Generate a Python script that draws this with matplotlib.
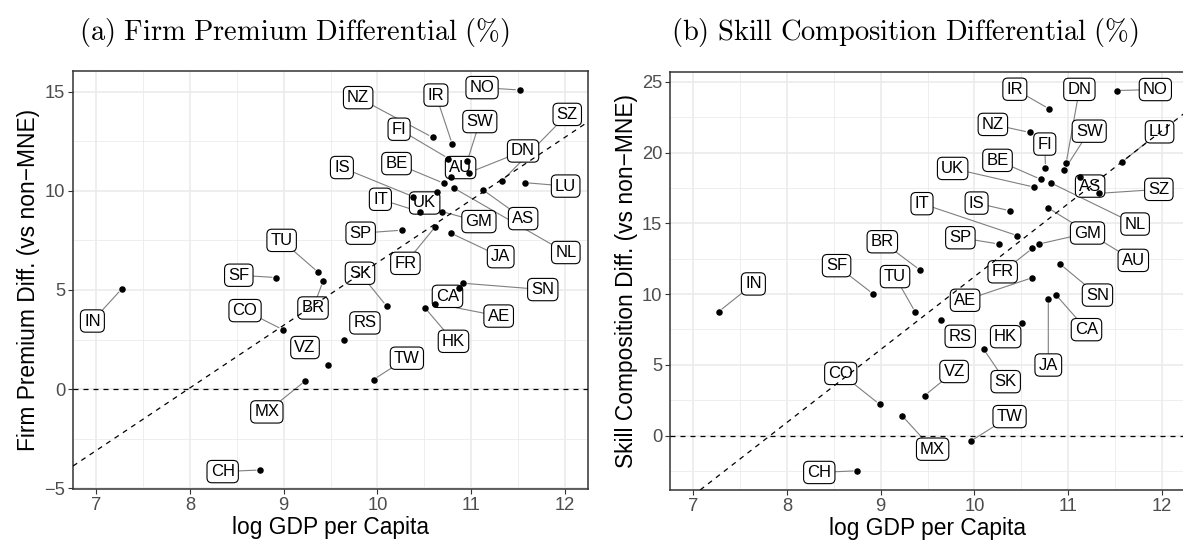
import matplotlib.pyplot as plt
import numpy as np

plt.rcParams["font.family"] = ["Liberation Sans", "DejaVu Sans"]
plt.rcParams["mathtext.fontset"] = "cm"

countries = ["IN", "CH", "SF", "CO", "MX", "TU", "BR", "VZ", "RS", "TW", "SK",
             "SP", "IS", "IT", "HK", "NZ", "FR", "AE", "UK", "GM", "BE", "FI",
             "AU", "JA", "IR", "NL", "CA", "SN", "SW", "DN", "AS", "SZ", "NO", "LU"]
log_gdp = [7.27, 8.75, 8.92, 8.99, 9.23, 9.37, 9.42, 9.47, 9.64, 9.96, 10.10,
           10.26, 10.38, 10.46, 10.51, 10.59, 10.62, 10.62, 10.64, 10.69, 10.71, 10.76,
           10.79, 10.79, 10.80, 10.82, 10.87, 10.92, 10.96, 10.98, 11.13, 11.33, 11.52, 11.58]
firm_premium = [5.05, -4.09, 5.63, 3.00, 0.41, 5.89, 5.44, 1.20, 2.48, 0.48, 4.18,
                8.02, 9.72, 8.94, 4.09, 12.71, 8.20, 4.31, 9.95, 8.96, 10.39, 11.64,
                10.73, 7.86, 12.37, 10.14, 5.12, 5.34, 11.50, 10.93, 10.05, 10.50, 15.10, 10.42]
skill_comp = [8.76, -2.49, 10.01, 2.20, 1.39, 8.72, 11.70, 2.83, 8.17, -0.40, 6.10,
              13.54, 15.89, 14.13, 7.98, 21.43, 13.23, 11.16, 17.56, 13.54, 18.11, 18.93,
              16.08, 9.63, 23.09, 17.85, 9.96, 12.10, 18.76, 19.24, 18.25, 17.12, 24.39, 19.35]

# dashed fit lines: (intercept, slope)
fit_a = (-25.22, 3.16)
fit_b = (-40.27, 5.15)

x_ticks = [7, 8, 9, 10, 11, 12]
y_ticks_a = [-5, 0, 5, 10, 15]
y_ticks_b = [0, 5, 10, 15, 20, 25]

# where the repelled labels sit, in pixels from the point (right, down)
offs_a = {
    "NO": (-37.6, -2.4), "NZ": (-74.4, -39.7), "IR": (-16.3, -49), "FI": (-49.4, -29.3),
    "SW": (12.6, -39.7), "SZ": (65.4, -66.7), "DN": (54, -21.6), "AU": (9.3, -9),
    "BE": (-47.3, -19.7), "IS": (-71, -29), "UK": (-12.6, 11), "IT": (-40, -12.7),
    "LU": (40.4, 3.4), "GM": (37, 10), "AS": (40, 28.6), "NL": (111.7, 64.3),
    "SP": (-41, 3), "JA": (49.4, 23.3), "FR": (-30, 36.7), "SK": (-26.7, -33),
    "TU": (-36.7, -32), "SF": (-37.4, -2.3), "IN": (-29.3, 32), "CO": (-37.7, -19),
    "BR": (-10, 26.7), "VZ": (-22.7, -17.7), "MX": (-38.4, 31), "CH": (-37.6, 1.6),
    "RS": (21.3, -17), "TW": (33.3, -21.3), "CA": (-11.3, 8.7), "SN": (79.3, 6.3),
    "AE": (63.3, 12.4), "HK": (28.4, 33.3),
}
offs_b = {
    "IR": (-34.4, -19.7), "DN": (13.3, -74), "NO": (38.7, -1), "NZ": (-36.7, -8),
    "FI": (-0.7, -23.7), "SW": (25, -39), "LU": (37.3, -30), "UK": (-81.6, -18.7),
    "BE": (-43.3, -19), "AS": (10, 8.7), "SZ": (60, -4), "IT": (-95.4, -32),
    "IS": (-33.3, -7.7), "NL": (84, 41), "GM": (48.6, -11), "SP": (-38.3, -6.3),
    "AU": (85, 52.3), "BR": (-37.7, -28.3), "FR": (-29.7, 23.4), "TU": (-20.3, -35.6),
    "SF": (-36.6, -28.3), "IN": (34.7, -27.7), "SN": (37, 30.7), "AE": (-67.3, 22.6),
    "CA": (30.7, 35), "RS": (19.6, 16.3), "HK": (-16.4, 14), "JA": (0, 65.7),
    "SK": (22, 32.4), "VZ": (29.4, -24), "TW": (39, -24.6), "MX": (30.4, 33.3),
    "CO": (-39, -31), "CH": (-38, 1.7),
}


def draw_panel(ax, yvals, fit, offs, ylabel, yticks, ylim):
    ax.set_xticks(x_ticks)
    ax.set_yticks(yticks)
    ax.set_xticks(np.arange(7.5, 12, 1.0), minor=True)
    ax.set_yticks(np.arange(yticks[0] - 2.5, yticks[-1] + 1, 5.0), minor=True)
    ax.set_xlim(6.75, 12.25)
    ax.set_ylim(*ylim)
    ax.grid(which="major", color="#EBEBEB", lw=1.2)
    ax.grid(which="minor", color="#EBEBEB", lw=0.6)
    ax.set_axisbelow(True)
    for s in ax.spines.values():
        s.set_color("#333333")
        s.set_linewidth(1.1)
    ax.tick_params(which="major", length=3.5, width=0.8, color="#333333",
                   labelsize=13.2, labelcolor="#4D4D4D", pad=2)
    ax.tick_params(which="minor", length=0)
    ax.set_xlabel("log GDP per Capita", fontsize=16.4, labelpad=2)
    ax.set_ylabel(ylabel, fontsize=16.4, labelpad=3)

    ax.axhline(0, color="black", lw=0.9, ls=(0, (4, 4)), zorder=5)
    ax.axline((0, fit[0]), slope=fit[1], color="black", lw=0.9, ls=(0, (4, 4)), zorder=5)
    ax.scatter(log_gdp, yvals, s=22, color="black", linewidths=0, zorder=4)

    for name, x, y in zip(countries, log_gdp, yvals):
        dx, dy = offs[name]
        ox, oy = dx * 0.72, -dy * 0.72
        if max(abs(dx) - 15, abs(dy) - 10) > 9:
            ax.annotate("", xy=(x, y), xytext=(ox, oy), textcoords="offset points",
                        arrowprops=dict(arrowstyle="-", color="#7F7F7F", lw=0.8,
                                        shrinkA=0, shrinkB=3), zorder=2)
        ax.annotate(name, xy=(x, y), xytext=(ox, oy), textcoords="offset points",
                    ha="center", va="center", fontsize=12,
                    bbox=dict(boxstyle="round,pad=0.22,rounding_size=0.3",
                              fc="white", ec="black", lw=0.8), zorder=3)


fig = plt.figure(figsize=(11.83, 5.47), dpi=100)
ax1 = fig.add_axes([73 / 1183, 58 / 547, 515 / 1183, 418 / 547])
ax2 = fig.add_axes([670 / 1183, 57 / 547, 515 / 1183, 418 / 547])

draw_panel(ax1, firm_premium, fit_a, offs_a, "Firm Premium Diff. (vs non\u2212MNE)",
           y_ticks_a, (-5.05, 16.06))
draw_panel(ax2, skill_comp, fit_b, offs_b, "Skill Composition Diff. (vs non\u2212MNE)",
           y_ticks_b, (-3.85, 25.7))

fig.text(0.2485, 0.94, r"$\mathrm{(a)\ Firm\ Premium\ Differential\ (\%)}$",
         ha="center", va="center", fontsize=20.5)
fig.text(0.765, 0.94, r"$\mathrm{(b)\ Skill\ Composition\ Differential\ (\%)}$",
         ha="center", va="center", fontsize=20.5)

fig.savefig("out.png", dpi=100)
